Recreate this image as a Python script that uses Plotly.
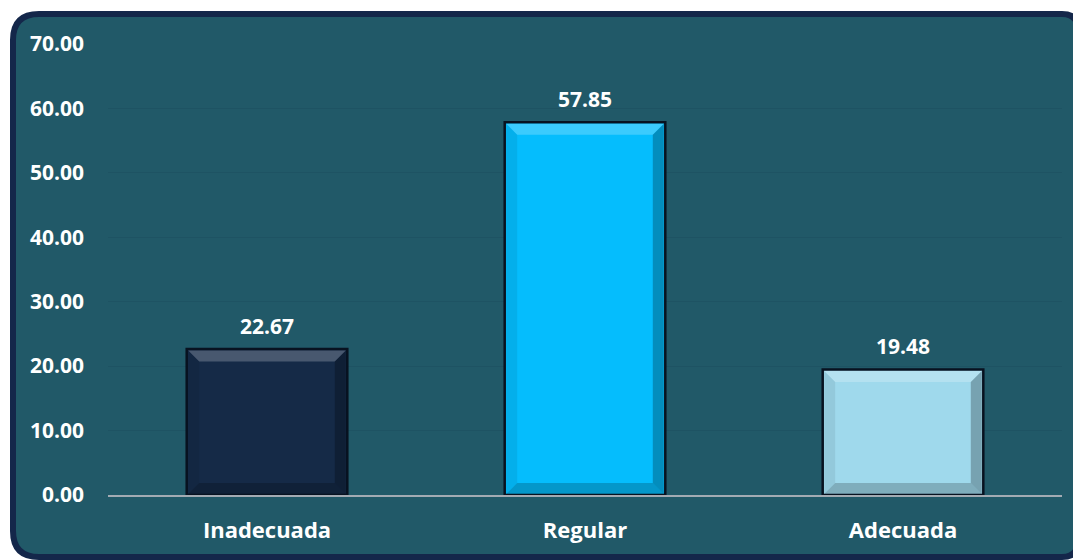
import plotly.graph_objects as go

categories = ["Inadecuada", "Regular", "Adecuada"]
values = [22.67, 57.85, 19.48]
bar_colors = ["#152a47", "#05bdfd", "#9fd9ec"]
y_ticks = [0, 10, 20, 30, 40, 50, 60, 70]
y_tick_labels = [f"{v:.2f}" for v in y_ticks]

W, H = 1081, 560
OFF = 8  # page body margin
PL, PR, PT, PB = 108, 1062, 44, 495  # plot area in page pixels
pw, ph = PR - PL, PB - PT
BAR_W = 0.505
YMAX = 70

def px(x):
    return (x - PL) / pw

def py(y):
    return (PB - y) / ph

fig = go.Figure()
fig.add_trace(go.Bar(
    x=categories, y=values,
    marker=dict(color=bar_colors, line=dict(color="#081220", width=2.5)),
    width=BAR_W,
    hoverinfo="skip",
))

for c, v in zip(categories, values):
    fig.add_annotation(x=c, y=v, text=f"<b>{v:.2f}</b>", showarrow=False,
                       yshift=23, font=dict(family="Open Sans", size=21, color="white"))

# bevel overlays derived from bar values
n = len(categories)
bev = 11
for i, v in enumerate(values):
    cx = PL + (i + 0.5) * pw / n
    hw = BAR_W * pw / n / 2 - 1.5
    xl, xr = cx - hw, cx + hw
    yt, yb = PB - v / YMAX * ph + 1.5, PB - 1
    def poly(pts, color):
        d = "M " + " L ".join(f"{px(a)},{py(b)}" for a, b in pts) + " Z"
        fig.add_shape(type="path", path=d, xref="paper", yref="paper",
                      fillcolor=color, line=dict(width=0), layer="above")
    poly([(xl, yt), (xr, yt), (xr - bev, yt + bev), (xl + bev, yt + bev)], "rgba(255,255,255,0.22)")
    poly([(xl, yt), (xl + bev, yt + bev), (xl + bev, yb - bev), (xl, yb)], "rgba(0,0,0,0.07)")
    poly([(xr, yt), (xr, yb), (xr - bev, yb - bev), (xr - bev, yt + bev)], "rgba(0,0,0,0.25)")
    poly([(xl, yb), (xr, yb), (xr - bev, yb - bev), (xl + bev, yb - bev)], "rgba(0,0,0,0.20)")

# rounded background panel
x0, y0, x1, y1 = 13, 14, 1078, 557
r1, r2 = 26, 16
path = (f"M {px(x0+r1)},{py(y0)} L {px(x1-r2)},{py(y0)} "
        f"Q {px(x1)},{py(y0)} {px(x1)},{py(y0+r2)} "
        f"L {px(x1)},{py(y1-r2)} Q {px(x1)},{py(y1)} {px(x1-r2)},{py(y1)} "
        f"L {px(x0+r1)},{py(y1)} Q {px(x0)},{py(y1)} {px(x0)},{py(y1-r1)} "
        f"L {px(x0)},{py(y0+r1)} Q {px(x0)},{py(y0)} {px(x0+r1)},{py(y0)} Z")
fig.add_shape(type="path", path=path, xref="paper", yref="paper", layer="below",
              fillcolor="#215968", line=dict(color="#14274a", width=6))

fig.update_layout(
    width=W, height=H,
    margin=dict(l=PL - OFF, r=W + OFF - PR, t=PT - OFF, b=H + OFF - PB),
    paper_bgcolor="white",
    plot_bgcolor="rgba(0,0,0,0)",
    showlegend=False,
    font=dict(family="Open Sans", color="white"),
    xaxis=dict(
        showgrid=False, showline=True, linecolor="#a3abb3", linewidth=2,
        ticks="", tickfont=dict(family="Open Sans", size=22, color="white", weight="bold"),
        ticklabelstandoff=15,
    ),
    yaxis=dict(
        range=[0, YMAX], tickvals=y_ticks, ticktext=y_tick_labels,
        showgrid=True, gridcolor="#1e5363", gridwidth=1.2, zeroline=False,
        showline=False, ticks="",
        tickfont=dict(family="Open Sans", size=21, color="white", weight="bold"),
        ticklabelstandoff=23,
    ),
)

fig.write_html("out.html")
